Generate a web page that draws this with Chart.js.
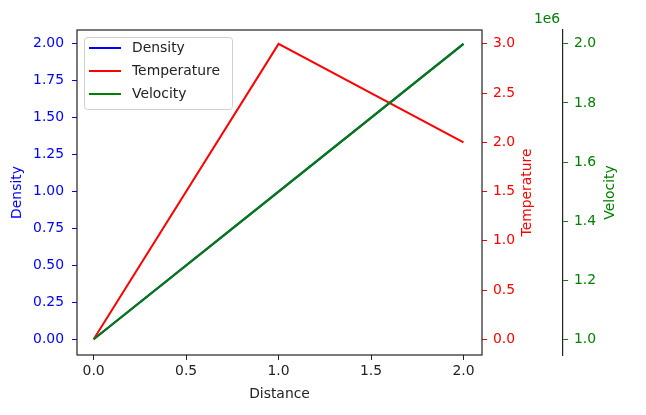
<!DOCTYPE html>
<html>
<head>
<meta charset="utf-8">
<script src="https://cdn.jsdelivr.net/npm/chart.js@4"></script>
<style>
  html, body { margin: 0; padding: 0; background: #fff; }
  #wrap { width: 646px; height: 415px; position: relative; }
</style>
</head>
<body>
<div id="wrap"><canvas id="myChart" width="646" height="415"></canvas></div>
<script>
const distance = [0, 1, 2];
const density = [0, 1, 2];
const temperature = [0, 3, 2];
const velocity = [1000000, 1500000, 2000000];

const font = { family: 'DejaVu Sans', size: 13.9 };
const blue = '#0000ff';
const red = '#ff0000';
const green = '#008000';

// frame + legend + right-side titles + offset label
const extras = {
  id: 'extras',
  afterDraw(chart) {
    const ctx = chart.ctx;
    const a = chart.chartArea;
    ctx.save();
    ctx.strokeStyle = '#222';
    ctx.lineWidth = 1.2;
    ctx.strokeRect(a.left, a.top, a.right - a.left, a.bottom - a.top);

    ctx.font = '13.9px "DejaVu Sans"';
    ctx.textBaseline = 'middle';

    // y titles on the right, read bottom to top
    const midY = (a.top + a.bottom) / 2;
    [['Temperature', red, 527], ['Velocity', green, 610]].forEach(([t, c, x]) => {
      ctx.save();
      ctx.translate(x, midY);
      ctx.rotate(-Math.PI / 2);
      ctx.textAlign = 'center';
      ctx.fillStyle = c;
      ctx.fillText(t, 0, 0);
      ctx.restore();
    });

    ctx.textAlign = 'center';
    ctx.fillStyle = green;
    ctx.fillText('1e6', 547, 19);

    // legend
    const x0 = 84, y0 = 37, w = 148, h = 72;
    ctx.fillStyle = 'rgba(255,255,255,0.8)';
    ctx.strokeStyle = '#d0d0d0';
    ctx.lineWidth = 1;
    ctx.beginPath();
    ctx.roundRect(x0 + 0.5, y0 + 0.5, w, h, 3);
    ctx.fill();
    ctx.stroke();
    ctx.textAlign = 'left';
    chart.data.datasets.forEach((ds, i) => {
      const y = 48 + i * 23;
      ctx.strokeStyle = ds.borderColor;
      ctx.lineWidth = 2;
      ctx.beginPath();
      ctx.moveTo(89, y);
      ctx.lineTo(121, y);
      ctx.stroke();
      ctx.fillStyle = '#222';
      ctx.fillText(ds.label, 132, y);
    });
    ctx.restore();
  }
};

function fixW(w) { return (s) => { s.width = w; }; }

const context = document.getElementById('myChart').getContext('2d');

const chart = new Chart(context, {
  type: 'line',
  data: {
    labels: distance,
    datasets: [
      { label: 'Density', data: density, borderColor: blue, yAxisID: 'y', order: 3 },
      { label: 'Temperature', data: temperature, borderColor: red, yAxisID: 'y1', order: 2 },
      { label: 'Velocity', data: velocity, borderColor: green, yAxisID: 'y2', order: 1 },
    ],
  },
  options: {
    responsive: false,
    animation: false,
    layout: { padding: { top: 30, left: 0, right: 0, bottom: 0 } },
    elements: {
      point: { radius: 0 },
      line: { borderWidth: 2, tension: 0 },
    },
    plugins: { legend: { display: false }, tooltip: { enabled: false } },
    scales: {
      x: {
        type: 'linear',
        min: -0.09,
        max: 2.1,
        afterFit(s) { s.height = 60; },
        afterBuildTicks(s) { s.ticks = [0, 0.5, 1, 1.5, 2].map((v) => ({ value: v })); },
        ticks: { font, color: '#222', padding: 3, maxRotation: 0, callback: (v) => v.toFixed(1) },
        grid: { drawOnChartArea: false, tickLength: 5, tickColor: '#222' },
        border: { display: false },
        title: { display: true, text: 'Distance', font, color: '#222', padding: { top: 0, bottom: 12.5 } },
      },
      y: {
        position: 'left',
        min: -0.106,
        max: 2.094,
        afterFit: fixW(77),
        afterBuildTicks(s) { s.ticks = [0, 0.25, 0.5, 0.75, 1, 1.25, 1.5, 1.75, 2].map((v) => ({ value: v })); },
        ticks: { font, color: blue, padding: 8, callback: (v) => v.toFixed(2) },
        grid: { drawOnChartArea: false, tickLength: 5, tickColor: blue },
        border: { display: false },
        title: { display: true, text: 'Density', font, color: blue, padding: { top: 8.7, bottom: 0 } },
      },
      y1: {
        position: 'right',
        min: -0.159,
        max: 3.141,
        afterFit: fixW(81),
        afterBuildTicks(s) { s.ticks = [0, 0.5, 1, 1.5, 2, 2.5, 3].map((v) => ({ value: v })); },
        ticks: { font, color: red, padding: 6, callback: (v) => v.toFixed(1) },
        grid: { drawOnChartArea: false, tickLength: 5, tickColor: red },
        border: { display: false },
      },
      y2: {
        position: 'right',
        min: 947000,
        max: 2047000,
        afterFit: fixW(83),
        afterBuildTicks(s) { s.ticks = [1e6, 1.2e6, 1.4e6, 1.6e6, 1.8e6, 2e6].map((v) => ({ value: v })); },
        ticks: { font, color: green, padding: 6, callback: (v) => (v / 1e6).toFixed(1) },
        grid: { drawOnChartArea: false, tickLength: 5, tickColor: green },
        border: { display: true, color: '#222', width: 1.2 },
      },
    },
  },
  plugins: [extras],
});
</script>
</body>
</html>
